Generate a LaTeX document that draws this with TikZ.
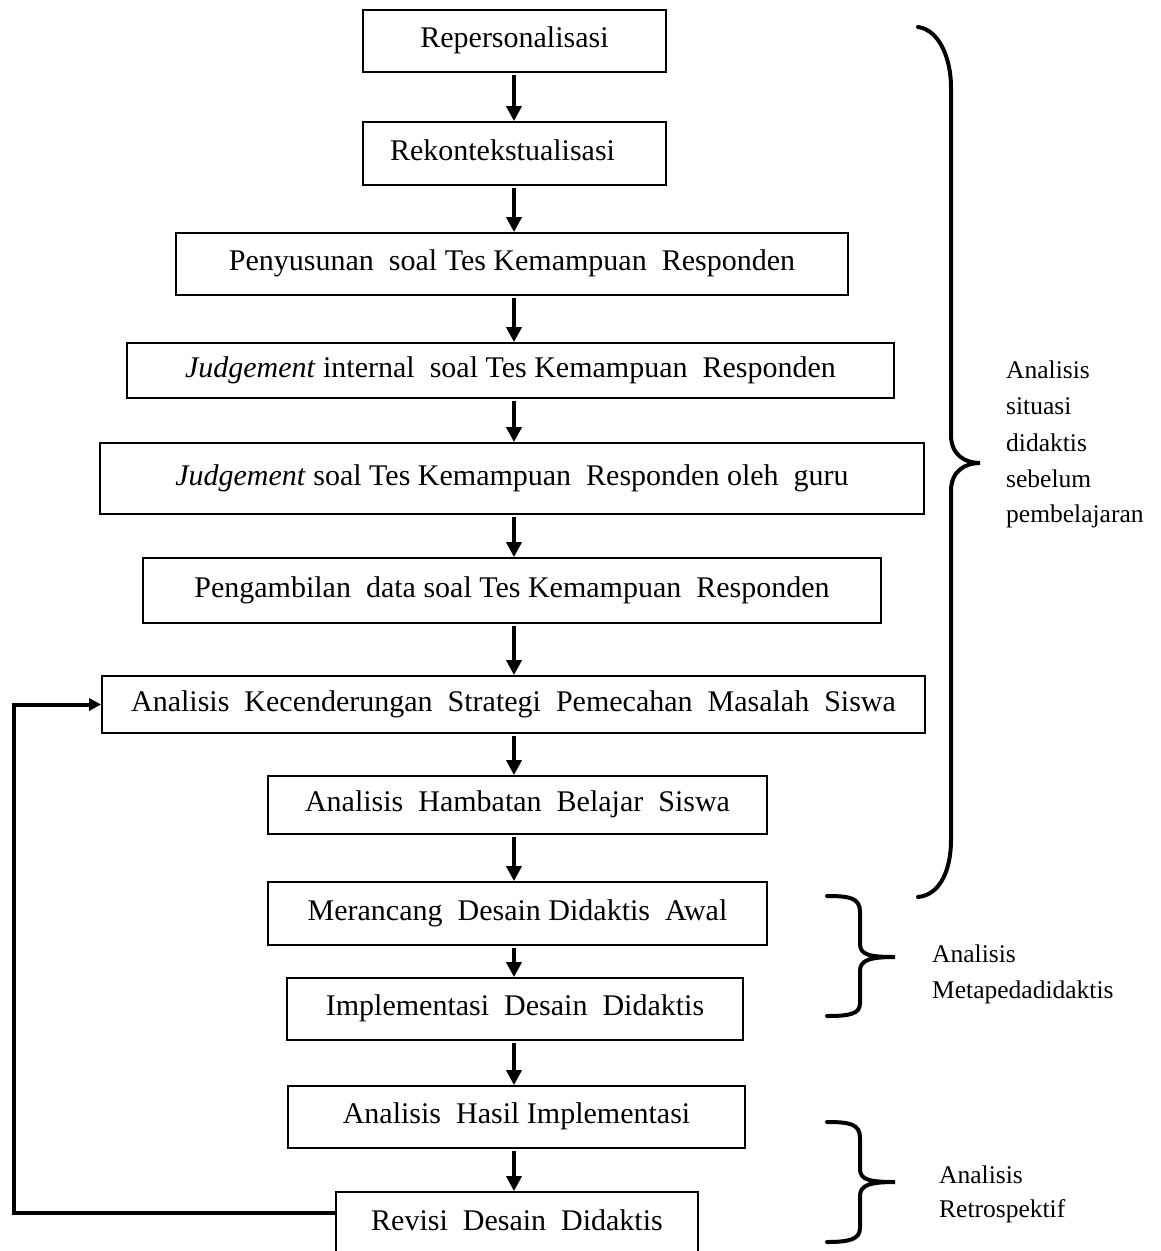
\documentclass[tikz,border=0pt]{standalone}
\usepackage{fontspec}
\setmainfont{Liberation Serif}
\usetikzlibrary{arrows.meta}
\tikzset{
  box/.style={draw, line width=1.8pt, inner sep=0pt, font=\fontsize{30}{36}\selectfont, text height=20pt, text depth=7pt},
  arr/.style={line width=4.5pt, -{Triangle[length=15pt,width=15pt]}, shorten <=2pt},
  fb/.style={line width=4pt, -{Triangle[length=12pt,width=12pt]}},
  brace/.style={line width=4pt, line cap=round},
  side/.style={font=\fontsize{25.5}{30}\selectfont, inner sep=0pt, anchor=base west},
}
\newcommand{\dsp}{\ \ }
\begin{document}
\begin{tikzpicture}[x=1pt,y=-1pt]
\useasboundingbox (0,0) rectangle (1161,1251);
\clip (0,0) rectangle (1161,1251);
% boxes
\node[box, minimum width=303pt, minimum height=62pt] (b1) at (514.5,41) {Repersonalisasi};
\node[box, minimum width=303pt, minimum height=63pt] (b2) at (514.5,153.5) {Rekontekstualisasi\hspace*{24pt}};
\node[box, minimum width=672pt, minimum height=62pt] (b3) at (512,264) {Penyusunan\dsp soal Tes Kemampuan\dsp Responden};
\node[box, minimum width=767pt, minimum height=55pt] (b4) at (510.5,370.5) {\textit{Judgement} internal\dsp soal Tes Kemampuan\dsp Responden};
\node[box, minimum width=824pt, minimum height=71pt] (b5) at (512,478.5) {\textit{Judgement} soal Tes Kemampuan\dsp Responden oleh\dsp guru};
\node[box, minimum width=738pt, minimum height=65pt] (b6) at (512,590.5) {Pengambilan\dsp data soal Tes Kemampuan\dsp Responden};
\node[box, minimum width=823pt, minimum height=57pt] (b7) at (513.5,704.5) {Analisis\dsp Kecenderungan\dsp Strategi\dsp Pemecahan\dsp Masalah\dsp Siswa};
\node[box, minimum width=499pt, minimum height=58pt] (b8) at (517.5,805) {Analisis\dsp Hambatan\dsp Belajar\dsp Siswa};
\node[box, minimum width=499pt, minimum height=63pt] (b9) at (517.5,913.5) {Merancang\dsp Desain Didaktis\dsp Awal};
\node[box, minimum width=456pt, minimum height=62pt] (b10) at (515,1009) {Implementasi\dsp Desain\dsp Didaktis};
\node[box, minimum width=457pt, minimum height=62pt] (b11) at (516.5,1117) {Analisis\dsp Hasil Implementasi};
\node[box, minimum width=362pt, minimum height=100pt, text depth=44pt] (b12) at (517,1242) {Revisi\dsp Desain\dsp Didaktis};
% arrows
\coordinate (ax) at (514,0);
\draw[arr] (b1.south -| ax) -- (b2.north -| ax);
\draw[arr] (b2.south -| ax) -- (b3.north -| ax);
\draw[arr] (b3.south -| ax) -- (b4.north -| ax);
\draw[arr] (b4.south -| ax) -- (b5.north -| ax);
\draw[arr] (b5.south -| ax) -- (b6.north -| ax);
\draw[arr] (b6.south -| ax) -- (b7.north -| ax);
\draw[arr] (b7.south -| ax) -- (b8.north -| ax);
\draw[arr] (b8.south -| ax) -- (b9.north -| ax);
\draw[arr] (b9.south -| ax) -- (b10.north -| ax);
\draw[arr] (b10.south -| ax) -- (b11.north -| ax);
\draw[arr] (b11.south -| ax) -- (b12.north -| ax);
% feedback
\coordinate (fbc) at (14,1213);
\draw[fb] (b12.west |- fbc) -- (fbc) |- (b7.west);
% braces
\draw[brace] (918,27) .. controls (940,30) and (951,60) .. (951,87) -- (951,435)
  .. controls (951,455) and (965,463) .. (980,463)
  .. controls (965,463) and (951,471) .. (951,491) -- (951,840)
  .. controls (951,870) and (940,895) .. (918,897);
\draw[brace] (827,896) .. controls (850,896) and (860,898) .. (860,912) -- (860,944)
  .. controls (860,955) and (870,957) .. (895,957)
  .. controls (870,957) and (860,960) .. (860,971) -- (860,1003)
  .. controls (860,1014) and (850,1016) .. (827,1016);
\draw[brace] (827,1122) .. controls (850,1122) and (860,1124) .. (860,1138) -- (860,1169)
  .. controls (860,1180) and (870,1182) .. (895,1182)
  .. controls (870,1182) and (860,1185) .. (860,1196) -- (860,1228)
  .. controls (860,1239) and (850,1242) .. (827,1242);
% side labels
\node[side] (s1) at (1006,378) {Analisis};
\node[side] (s2) at (1006,414) {situasi};
\node[side] (s3) at (1006,451) {didaktis};
\node[side] (s4) at (1006,487) {sebelum};
\node[side] (s5) at (1006,522) {pembelajaran};
\node[side] (m1) at (932,962) {Analisis};
\node[side] (m2) at (932,998) {Metapedadidaktis};
\node[side] (r1) at (939,1183) {Analisis};
\node[side] (r2) at (939,1217) {Retrospektif};
\end{tikzpicture}
\end{document}
